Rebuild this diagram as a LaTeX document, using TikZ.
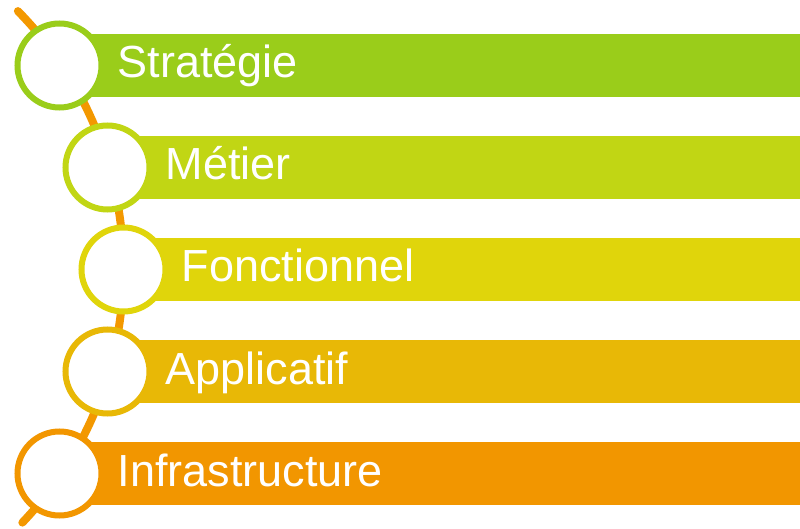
\documentclass[tikz,border=0pt]{standalone}
\usepackage{fontspec}
\setmainfont{Liberation Sans}
\definecolor{cA}{HTML}{9ACD1A}
\definecolor{cB}{HTML}{C1D614}
\definecolor{cC}{HTML}{E0D50B}
\definecolor{cD}{HTML}{E8B806}
\definecolor{cE}{HTML}{F29600}
\definecolor{arcor}{HTML}{F39800}
\begin{document}
\begin{tikzpicture}[x=1pt,y=-1pt,
  ring/.style={circle,draw=#1,fill=white,line width=6pt,minimum size=84pt,inner sep=0pt,outer sep=0pt},
  lbl/.style={anchor=base west,text=white,font=\fontsize{45}{50}\selectfont,inner sep=0pt}]
\useasboundingbox (0,0) rectangle (800,529);
\fill[white] (0,0) rectangle (800,529);
% bars
\fill[cA] (59.5,34) rectangle (800,97);
\fill[cB] (107.5,136) rectangle (800,199);
\fill[cC] (123.5,238) rectangle (800,301);
\fill[cD] (107.5,340) rectangle (800,403);
\fill[cE] (59.5,442) rectangle (800,505);
% orange arc
\coordinate (arcstart) at (17.9,11.1);
\draw[arcor,line width=8pt,line cap=round] (arcstart) arc[start angle=-44.5,end angle=43.5,radius=368.2];
% circles
\node[ring=cA] (c1) at (59.5,65.5) {};
\node[ring=cB] (c2) at (107.5,167.5) {};
\node[ring=cC] (c3) at (123.5,269.5) {};
\node[ring=cD] (c4) at (107.5,371.5) {};
\node[ring=cE] (c5) at (59.5,473.5) {};
% labels
\node[lbl] (t1) at (117.5,78) {Stratégie};
\node[lbl] (t2) at (165.5,180) {Métier};
\node[lbl] (t3) at (181.5,282) {Fonctionnel};
\node[lbl] (t4) at (165.5,384) {Applicatif};
\node[lbl] (t5) at (117.5,486) {Infrastructure};
\end{tikzpicture}
\end{document}
